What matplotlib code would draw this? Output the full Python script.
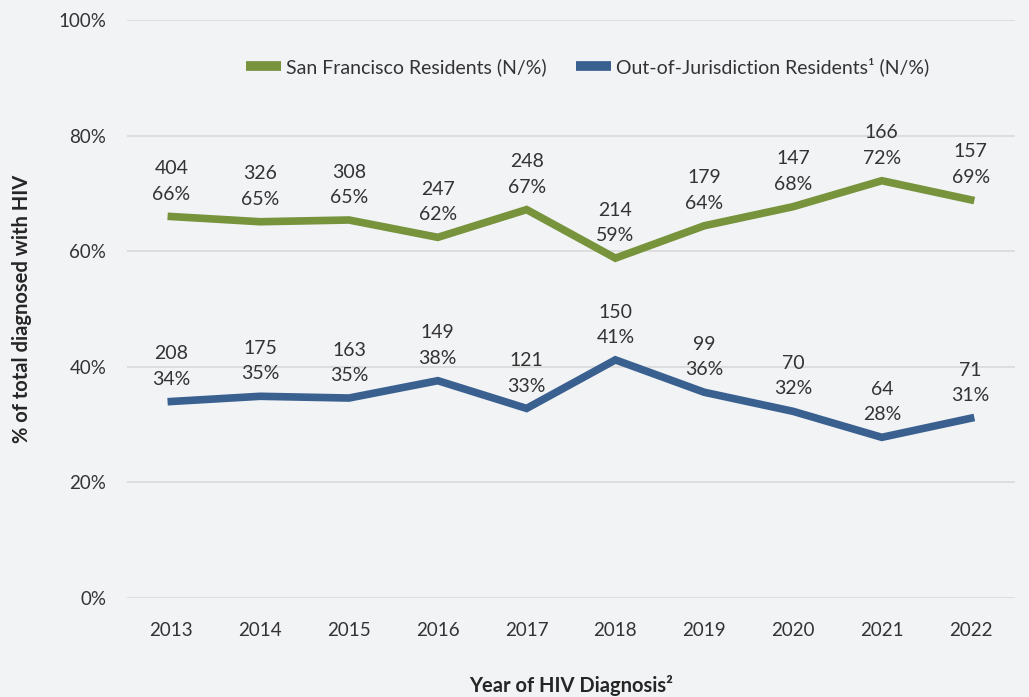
import numpy as np
import matplotlib.pyplot as plt

plt.rcParams['font.family'] = ['Lato', 'DejaVu Sans']

years = ['2013', '2014', '2015', '2016', '2017', '2018', '2019', '2020', '2021', '2022']
sf_n = [404, 326, 308, 247, 248, 214, 179, 147, 166, 157]
sf_pct = [66.0, 65.1, 65.4, 62.4, 67.2, 58.8, 64.4, 67.7, 72.2, 68.9]
ooj_n = [208, 175, 163, 149, 121, 150, 99, 70, 64, 71]
ooj_pct = [34.0, 34.9, 34.6, 37.6, 32.8, 41.2, 35.6, 32.3, 27.8, 31.1]

green = '#77933C'
blue = '#3A6090'
bg = '#F2F3F5'
txt = '#333333'

fig = plt.figure(figsize=(10.29, 6.97), dpi=100, facecolor=bg)
ax = fig.add_axes([0.1234, 0.142, 0.863, 0.8293], facecolor=bg)

x = np.arange(len(years))
ax.plot(x, sf_pct, color=green, lw=5.5, solid_joinstyle='miter',
        label='San Francisco Residents (N/%)')
ax.plot(x, ooj_pct, color=blue, lw=5.5, solid_joinstyle='miter',
        label='Out-of-Jurisdiction Residents\u00b9 (N/%)')

# data labels: count on top, percent below
for xi, n, p in zip(x, sf_n, sf_pct):
    ax.annotate(f'{n}\n{round(p):.0f}%', (xi, p), xytext=(0, 10),
                textcoords='offset points', ha='center', va='bottom',
                fontsize=14, color=txt, linespacing=1.6)
for xi, n, p in zip(x, ooj_n, ooj_pct):
    ax.annotate(f'{n}\n{round(p):.0f}%', (xi, p), xytext=(0, 10),
                textcoords='offset points', ha='center', va='bottom',
                fontsize=14, color=txt, linespacing=1.6)

ax.set_xlim(-0.5, len(years) - 0.5)
ax.set_ylim(0, 100)
ax.set_yticks(np.arange(0, 101, 20))
ax.set_yticklabels([f'{v}%' for v in range(0, 101, 20)])
ax.set_xticks(x)
ax.set_xticklabels(years)
ax.tick_params(axis='both', length=0, labelsize=13.5, labelcolor=txt)
ax.tick_params(axis='x', pad=17)
ax.tick_params(axis='y', pad=15)
ax.grid(axis='y', color='#D9D9D9', lw=1.2)
ax.set_axisbelow(True)
for s in ax.spines.values():
    s.set_visible(False)

ax.set_ylabel('% of total diagnosed with HIV', fontsize=14.5, fontweight='bold',
              color='#262626', labelpad=19)
ax.set_xlabel('Year of HIV Diagnosis\u00b2', fontsize=14.5, fontweight='bold',
              color='#262626', labelpad=26)

leg = ax.legend(loc='center', bbox_to_anchor=(0.519, 0.92), ncol=2, frameon=False,
                fontsize=14, handlelength=1.8, handletextpad=0.25, columnspacing=1.5)
for t in leg.get_texts():
    t.set_color(txt)
for h in leg.get_lines():
    h.set_linewidth(7)
    h.set_solid_capstyle('butt')

fig.savefig('out.png', dpi=100, facecolor=bg)
